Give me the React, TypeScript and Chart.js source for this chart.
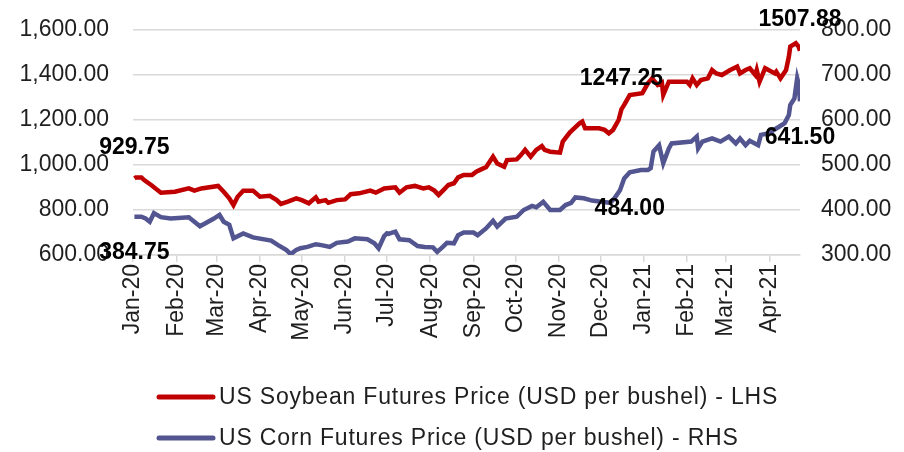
import React, { useEffect, useRef } from "react";
import { Chart, registerables } from "chart.js";

Chart.register(...registerables);

// ---------------- DATA ----------------
const soyDates = [
  "2020-01-02","2020-01-03","2020-01-07","2020-01-09","2020-01-14","2020-01-21","2020-01-31",
  "2020-02-10","2020-02-14","2020-02-19","2020-03-02","2020-03-06","2020-03-10","2020-03-13",
  "2020-03-16","2020-03-20","2020-03-27","2020-04-01","2020-04-08","2020-04-13","2020-04-16",
  "2020-04-21","2020-04-27","2020-05-01","2020-05-06","2020-05-11","2020-05-13","2020-05-18",
  "2020-05-20","2020-05-26","2020-06-01","2020-06-05","2020-06-11","2020-06-19","2020-06-23",
  "2020-06-29","2020-07-07","2020-07-10","2020-07-15","2020-07-21","2020-07-27","2020-07-31",
  "2020-08-04","2020-08-07","2020-08-11","2020-08-14","2020-08-18","2020-08-21","2020-08-25",
  "2020-08-31","2020-09-03","2020-09-08","2020-09-10","2020-09-15","2020-09-18","2020-09-23",
  "2020-09-25","2020-10-02","2020-10-05","2020-10-08","2020-10-12","2020-10-16","2020-10-20",
  "2020-10-22","2020-10-26","2020-11-02","2020-11-04","2020-11-09","2020-11-11","2020-11-16",
  "2020-11-18","2020-11-20","2020-11-30","2020-12-04","2020-12-07","2020-12-10","2020-12-14",
  "2020-12-16","2020-12-18","2020-12-22","2020-12-31","2021-01-04","2021-01-07","2021-01-11",
  "2021-01-14","2021-01-15","2021-01-19","2021-01-21","2021-02-01","2021-02-03","2021-02-05",
  "2021-02-08","2021-02-11","2021-02-16","2021-02-19","2021-02-22","2021-02-26","2021-03-04",
  "2021-03-09","2021-03-11","2021-03-15","2021-03-18","2021-03-22","2021-03-23","2021-03-25",
  "2021-03-29","2021-04-05","2021-04-06","2021-04-09","2021-04-13","2021-04-15","2021-04-16",
  "2021-04-20","2021-04-22","2021-04-23"
];
const soyValues = [
  941, 945, 945, 933, 911, 877, 881,
  896, 886, 896, 907, 881, 852, 822,
  859, 886, 886, 859, 863, 844, 827,
  837, 852, 844, 830, 856, 837, 844,
  832, 844, 847, 870, 874, 886, 877,
  896, 901, 877, 901, 907, 896, 901,
  886, 867, 892, 911, 919, 945, 956,
  956, 970, 985, 990, 1037, 1007, 992,
  1022, 1025, 1044, 1067, 1037, 1067, 1084,
  1067, 1059, 1055, 1104, 1144, 1156, 1185,
  1193, 1163, 1163, 1156, 1141, 1156, 1200,
  1247.25, 1267, 1311, 1319, 1363, 1385, 1356,
  1366, 1311, 1370, 1370, 1370, 1356, 1385,
  1356, 1378, 1385, 1422, 1407, 1400, 1422,
  1437, 1407, 1422, 1430, 1400, 1422, 1370,
  1430, 1407, 1415, 1385, 1422, 1481, 1526,
  1541, 1526, 1507.88
];

const cornDates = [
  "2020-01-02","2020-01-07","2020-01-10","2020-01-13","2020-01-16","2020-01-21","2020-01-28",
  "2020-02-10","2020-02-18","2020-02-28","2020-03-03","2020-03-06","2020-03-10","2020-03-13",
  "2020-03-20","2020-03-27","2020-04-09","2020-04-14","2020-04-20","2020-04-23","2020-04-27",
  "2020-04-30","2020-05-05","2020-05-11","2020-05-15","2020-05-21","2020-05-26","2020-06-03",
  "2020-06-08","2020-06-17","2020-06-22","2020-06-25","2020-06-29","2020-07-01","2020-07-02",
  "2020-07-07","2020-07-10","2020-07-17","2020-07-23","2020-07-28","2020-08-03","2020-08-06",
  "2020-08-10","2020-08-13","2020-08-18","2020-08-21","2020-08-25","2020-09-01","2020-09-04",
  "2020-09-10","2020-09-15","2020-09-18","2020-09-24","2020-10-02","2020-10-07","2020-10-13",
  "2020-10-16","2020-10-21","2020-10-26","2020-11-02","2020-11-06","2020-11-10","2020-11-13",
  "2020-11-19","2020-11-25","2020-12-03","2020-12-08","2020-12-11","2020-12-15","2020-12-18",
  "2020-12-22","2020-12-30","2021-01-04","2021-01-06","2021-01-08","2021-01-12","2021-01-15",
  "2021-01-19","2021-01-21","2021-02-04","2021-02-08","2021-02-09","2021-02-12","2021-02-19",
  "2021-02-25","2021-03-03","2021-03-08","2021-03-11","2021-03-15","2021-03-18","2021-03-24",
  "2021-03-26","2021-03-31","2021-04-08","2021-04-12","2021-04-15","2021-04-16","2021-04-19",
  "2021-04-21","2021-04-22","2021-04-23"
];
const cornValues = [
  384.75, 385, 381, 374, 393, 384, 381,
  384, 364, 381, 389, 374, 367, 337,
  348, 339, 332, 322, 311, 302, 311,
  315, 318, 324, 322, 318, 327, 330,
  337, 335, 326, 315, 342, 348, 347,
  352, 335, 333, 320, 318, 317, 307,
  318, 327, 326, 344, 350, 350, 344,
  359, 376, 363, 381, 385, 400, 409,
  406, 418, 400, 400, 411, 416, 428,
  426, 421, 418, 416, 426, 444, 470,
  484, 489, 489, 493, 530, 544, 504,
  537, 548, 552, 563, 537, 552, 559,
  552, 563, 548, 559, 544, 554, 544,
  567, 570, 585, 593, 611, 633, 648,
  693, 681, 641.5
];

// data labels (date of the point they belong to, and the text shown)
const soyLabelDates = ["2020-01-02", "2020-12-16", "2021-04-23"];
const soyLabelTexts = ["929.75", "1247.25", "1507.88"];
const cornLabelDates = ["2020-01-02", "2020-12-22", "2021-04-23"];
const cornLabelTexts = ["384.75", "484.00", "641.50"];

const xTickDates = [
  "2020-01-01","2020-02-01","2020-03-01","2020-04-01","2020-05-01","2020-06-01","2020-07-01",
  "2020-08-01","2020-09-01","2020-10-01","2020-11-01","2020-12-01","2021-01-01","2021-02-01",
  "2021-03-01","2021-04-01"
];
const xTickLabels = [
  "Jan-20","Feb-20","Mar-20","Apr-20","May-20","Jun-20","Jul-20","Aug-20",
  "Sep-20","Oct-20","Nov-20","Dec-20","Jan-21","Feb-21","Mar-21","Apr-21"
];

const seriesNames = [
  "US Soybean Futures Price (USD per bushel) - LHS",
  "US Corn Futures Price (USD per bushel) - RHS",
];

const leftTicks = { min: 600, max: 1600, step: 200 };
const rightTicks = { min: 300, max: 800, step: 100 };

// ---------------- HELPERS ----------------
const ORIGIN = Date.UTC(2020, 0, 1);
const dayOf = (s: string) => {
  const [y, m, d] = s.split("-").map(Number);
  return (Date.UTC(y, m - 1, d) - ORIGIN) / 864e5;
};

const RED = "#C00000";
const BLUE = "#525590";
const FONT = "'Liberation Sans', Arial, sans-serif";
const TEXT = "#1f1f1f";

const dataLabelPlugin = {
  id: "dataLabels",
  afterDatasetsDraw(chart: any) {
    const ctx = chart.ctx;
    const specs = [
      { ds: 0, dates: soyLabelDates, texts: soyLabelTexts, dy: -31 },
      { ds: 1, dates: cornLabelDates, texts: cornLabelTexts, dy: 36 },
    ];
    ctx.save();
    ctx.font = `bold 23px ${FONT}`;
    ctx.fillStyle = "#000";
    ctx.textAlign = "center";
    ctx.textBaseline = "middle";
    specs.forEach((s) => {
      const meta = chart.getDatasetMeta(s.ds);
      const pts = chart.data.datasets[s.ds].data;
      s.dates.forEach((d, i) => {
        const day = dayOf(d);
        const idx = pts.findIndex((p: any) => p.x === day);
        if (idx < 0) return;
        const el = meta.data[idx];
        ctx.fillText(s.texts[i], el.x, el.y + s.dy);
      });
    });
    ctx.restore();
  },
};

const legendPlugin = {
  id: "customLegend",
  afterDraw(chart: any) {
    const ctx = chart.ctx;
    const rows = [chart.height - 55, chart.height - 14];
    const colors = [RED, BLUE];
    ctx.save();
    ctx.font = `23px ${FONT}`;
    ctx.fillStyle = TEXT;
    ctx.textAlign = "left";
    ctx.textBaseline = "middle";
    try { (ctx as any).letterSpacing = "0.8px"; } catch (e) {}
    rows.forEach((y, i) => {
      ctx.strokeStyle = colors[i];
      ctx.lineWidth = 5;
      ctx.lineCap = "round";
      ctx.beginPath();
      ctx.moveTo(159, y);
      ctx.lineTo(213, y);
      ctx.stroke();
      ctx.fillText(seriesNames[i], 219, y + 1);
    });
    ctx.restore();
  },
};

const fitY = (width: number) => (scale: any) => {
  scale.width = width;
  scale.paddingTop = 0;
  scale.paddingBottom = 0;
};

export default function App() {
  const ref = useRef<HTMLCanvasElement>(null);

  useEffect(() => {
    document.body.style.margin = "0";
    const soyData = soyDates.map((d, i) => ({ x: dayOf(d), y: soyValues[i] }));
    const cornData = cornDates.map((d, i) => ({ x: dayOf(d), y: cornValues[i] }));
    const tickDays = xTickDates.map(dayOf);
    const lastDay = Math.max(dayOf(soyDates[soyDates.length - 1]), dayOf(cornDates[cornDates.length - 1]));

    const chart = new Chart(ref.current!, {
      type: "line",
      data: {
        datasets: [
          {
            label: seriesNames[0],
            data: soyData,
            borderColor: RED,
            backgroundColor: RED,
            borderWidth: 4.5,
            pointRadius: 0,
            yAxisID: "y",
            tension: 0,
          },
          {
            label: seriesNames[1],
            data: cornData,
            borderColor: BLUE,
            backgroundColor: BLUE,
            borderWidth: 4.5,
            pointRadius: 0,
            yAxisID: "y1",
            tension: 0,
          },
        ],
      },
      options: {
        animation: false,
        responsive: false,
        devicePixelRatio: 1,
        layout: { padding: { top: 30, bottom: 97, left: 0, right: 0 } },
        plugins: { legend: { display: false }, tooltip: { enabled: false } },
        scales: {
          x: {
            type: "linear",
            min: 0,
            max: lastDay,
            afterBuildTicks: (scale: any) => {
              scale.ticks = tickDays.map((v) => ({ value: v }));
            },
            afterFit: (scale: any) => {
              scale.height = 100;
            },
            grid: {
              display: true,
              drawOnChartArea: false,
              drawTicks: true,
              tickLength: 7,
              color: "#D9D9D9",
              lineWidth: 1.5,
            },
            border: { display: true, color: "#D9D9D9", width: 1.5 },
            ticks: {
              autoSkip: false,
              minRotation: 90,
              maxRotation: 90,
              padding: 2,
              color: TEXT,
              font: { family: FONT, size: 23 },
              callback: (_v: any, i: number) => xTickLabels[i],
            },
          },
          y: {
            position: "left",
            min: leftTicks.min,
            max: leftTicks.max,
            afterFit: fitY(133),
            grid: { color: "#D9D9D9", lineWidth: 1.5, drawTicks: false },
            border: { display: false },
            ticks: {
              stepSize: leftTicks.step,
              padding: 24,
              color: TEXT,
              font: { family: FONT, size: 23 },
              callback: (v: any) =>
                Number(v).toLocaleString("en-US", { minimumFractionDigits: 2, maximumFractionDigits: 2 }),
            },
          },
          y1: {
            position: "right",
            min: rightTicks.min,
            max: rightTicks.max,
            afterFit: fitY(104),
            grid: { display: false, drawTicks: false },
            border: { display: false },
            ticks: {
              stepSize: rightTicks.step,
              padding: 21,
              color: TEXT,
              font: { family: FONT, size: 23 },
              callback: (v: any) => Number(v).toFixed(2),
            },
          },
        },
      },
      plugins: [dataLabelPlugin, legendPlugin],
    } as any);
    return () => chart.destroy();
  }, []);

  return <canvas ref={ref} width={904} height={452} style={{ display: "block" }} />;
}
